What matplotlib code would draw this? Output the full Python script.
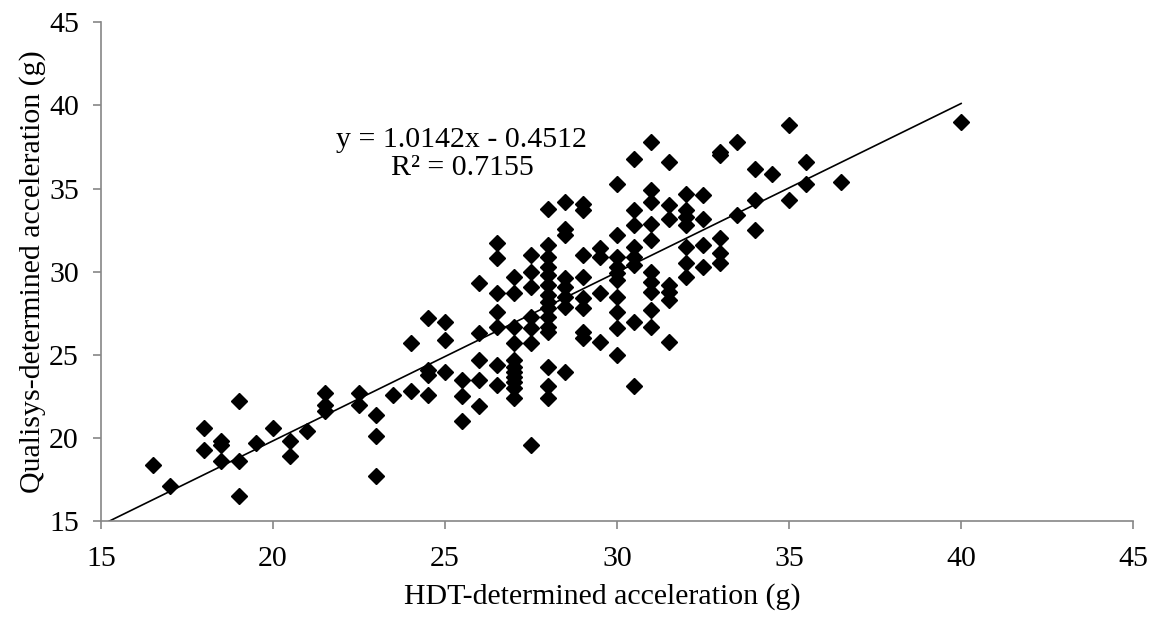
import numpy as np
from matplotlib import pyplot as plt

hdt_levels = [16.5, 17, 18, 18.5, 19, 19.5, 20, 20.5, 21, 21.5, 22.5, 23, 23.5, 24, 24.5, 25, 25.5,
              26, 26.5, 27, 27.5, 28, 28.5, 29, 29.5, 30, 30.5, 31, 31.5, 32, 32.5, 33, 33.5, 34,
              34.5, 35, 35.5, 36.5, 40]
qualisys_groups = [
    [18.4],
    [17.1],
    [20.6, 19.3],
    [19.8, 19.6, 18.6],
    [22.2, 18.6, 16.5],
    [19.7],
    [20.6],
    [19.8, 18.9],
    [20.4],
    [22.7, 22.0, 21.6],
    [22.7, 22.0],
    [21.4, 20.1, 17.7],
    [22.6],
    [25.7, 22.8],
    [27.2, 24.1, 23.8, 22.6],
    [27.0, 25.9, 24.0],
    [23.5, 22.5, 21.0],
    [29.3, 26.3, 24.7, 23.5, 21.9],
    [31.7, 30.8, 28.7, 27.6, 26.7, 24.4, 23.2],
    [29.7, 28.7, 26.7, 25.7, 24.7, 24.3, 24.0, 23.7, 23.4, 23.0, 22.4],
    [31.0, 30.0, 29.1, 27.3, 26.6, 25.7, 19.6],
    [33.8, 31.6, 30.9, 30.3, 29.8, 29.2, 28.6, 28.2, 27.8, 27.3, 26.7, 26.4, 24.3, 23.1, 22.4],
    [34.2, 32.6, 32.2, 29.6, 29.1, 28.5, 27.9, 24.0],
    [34.1, 33.7, 31.0, 29.7, 28.4, 27.8, 26.4, 26.0],
    [31.4, 30.9, 28.7, 25.8],
    [35.3, 32.2, 30.9, 30.3, 29.9, 29.5, 28.5, 27.6, 26.6, 25.0],
    [36.8, 33.7, 32.8, 31.5, 30.9, 30.4, 27.0, 23.1],
    [37.8, 34.9, 34.2, 32.9, 31.9, 30.0, 29.4, 28.8, 27.7, 26.7],
    [36.6, 34.0, 33.2, 29.2, 28.8, 28.3, 25.8],
    [34.7, 33.7, 33.3, 32.8, 31.5, 30.5, 29.7],
    [34.6, 33.2, 31.6, 30.3],
    [37.2, 37.0, 32.0, 31.1, 30.5],
    [37.8, 33.4],
    [36.2, 34.3, 32.5],
    [35.9],
    [38.8, 34.3],
    [36.6, 35.3],
    [35.4],
    [39.0],
]

slope = 1.0142
intercept = -0.4512
r_squared = 0.7155

x_ticks = [15, 20, 25, 30, 35, 40, 45]
y_ticks = [15, 20, 25, 30, 35, 40, 45]

hdt = []
qualisys = []
for level, group in zip(hdt_levels, qualisys_groups):
    for value in group:
        hdt.append(level)
        qualisys.append(value)

plt.rcParams['font.family'] = ['Liberation Serif', 'DejaVu Serif']
plt.rcParams['font.size'] = 21.5

fig = plt.figure(figsize=(11.61, 6.19), dpi=100)
ax = fig.add_axes([0.087, 0.158, 0.889, 0.806])

ax.plot(hdt, qualisys, ls='none', marker='D', ms=8.6, color='black', zorder=3)

# Excel style linear trendline, drawn up to the last point
trend_x = np.array([15, max(hdt)])
ax.plot(trend_x, slope * trend_x + intercept, color='black', lw=1.2, zorder=2)

ax.text(25.49, 37.1, f"y = {slope}x - {abs(intercept)}\nR² = {r_squared}",
        ha='center', va='center', multialignment='center', linespacing=1.1)

ax.set_xlim(15, 45)
ax.set_ylim(15, 45)
ax.set_xticks(x_ticks)
ax.set_yticks(y_ticks)
ax.set_xlabel("HDT-determined acceleration (g)", labelpad=10)
ax.set_ylabel("Qualisys-determined acceleration (g)", labelpad=2)
ax.xaxis.set_label_coords(0.4855, -0.125)

for side in ['top', 'right']:
    ax.spines[side].set_visible(False)
for side in ['left', 'bottom']:
    ax.spines[side].set_color('#868686')
    ax.spines[side].set_linewidth(1.2)
ax.tick_params(direction='out', length=6, width=1.2, color='#868686')
ax.tick_params(axis='x', pad=12)
ax.tick_params(axis='y', pad=10)

plt.savefig("out.png")
